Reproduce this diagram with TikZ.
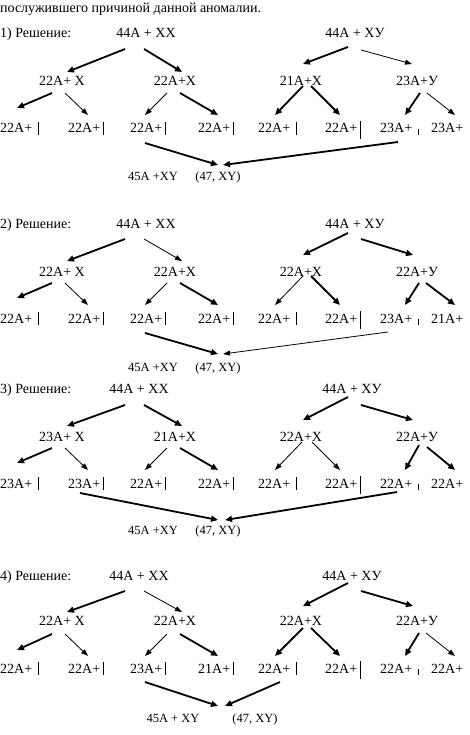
\documentclass[tikz,border=0pt]{standalone}
\usepackage{fontspec}
\setmainfont{Liberation Serif}
\usetikzlibrary{arrows.meta,calc}

% short strokes after the gametes
\newcommand{\gbar}{\rule[-2pt]{0.8pt}{13pt}}
\newcommand{\gbarl}{\rule[-6pt]{0.8pt}{18pt}}
\newcommand{\gtick}{\rule[-2pt]{0.8pt}{6pt}}

\tikzset{
  lbl/.style={font=\fontsize{14}{16}\selectfont, inner sep=0pt},
  sml/.style={font=\fontsize{12.5}{15}\selectfont, inner sep=0pt},
  thk/.style={line width=1.8pt, -{Triangle[length=7pt,width=6pt]}},
  thn/.style={line width=0.8pt, -{Triangle[length=7pt,width=5pt]}}
}

\begin{document}
\begin{tikzpicture}[x=1pt, y=-1pt]
    \useasboundingbox (0,0) rectangle (469,735);
    \node[lbl, anchor=base west] (head) at (0,13) {послужившего причиной данной аномалии.};

    % 1) Solution
    \begin{scope}[shift={(0,33)}]
    \node[lbl, anchor=base west] (b1h) at (0,5) {1) Решение:};
    \node[lbl, anchor=base] (b1xx) at (146,5) {44A + XX};
    \node[lbl, anchor=base] (b1xy) at (355,5) {44A + XУ};
    \node[lbl, anchor=base] (b1m1) at (62,53) {22A+ X};
    \node[lbl, anchor=base] (b1m2) at (175,53) {22A+X};
    \node[lbl, anchor=base] (b1m3) at (301,53) {21A+X};
    \node[lbl, anchor=base] (b1m4) at (417,53) {23A+У};
    \foreach \i/\x/\t in {1/0/{22A+\hspace{6pt}\gbar}, 2/68/{22A+\hspace{3pt}\gbar},
        3/130/{22A+\hspace{3pt}\gbar}, 4/198/{22A+\hspace{3pt}\gbar}, 5/258/{22A+\hspace{6pt}\gbar},
        6/325/{22A+\hspace{3pt}\gbarl}, 7/380/{23A+\hspace{6pt}\gtick}, 8/431/{23A+}}
      \node[lbl, anchor=base west] (b1g\i) at (\x,100) {\t};
    \node[sml, anchor=base] (b1res) at (153,148) {45A +XY};
    \node[sml, anchor=base] (b1kar) at (218,148) {(47, XY)};
    \draw[thk] ($(b1xx.base)+(-21,11)$) -- ($(b1m1.base)+(5,-14)$);
    \draw[thk] ($(b1xx.base)+(-2,11)$) -- ($(b1m2.base)+(7,-14)$);
    \draw[thk] ($(b1xy.base)+(-7,9)$) -- ($(b1m3.base)+(2,-22)$);
    \draw[thn] ($(b1xy.base)+(6,12)$) -- ($(b1m4.base)+(-5,-22)$);
    \draw[thk] ($(b1m1.base)+(-10,7)$) -- ($(b1g1.base west)+(17,-25)$);
    \draw[thn] ($(b1m1.base)+(3,7)$) -- ($(b1g2.base west)+(20,-18)$);
    \draw[thn] ($(b1m2.base)+(-8,7)$) -- ($(b1g3.base west)+(15,-18)$);
    \draw[thk] ($(b1m2.base)+(5,7)$) -- ($(b1g4.base west)+(20,-18)$);
    \draw[thk] ($(b1m3.base)+(2,0)$) -- ($(b1g5.base west)+(17,-18)$);
    \draw[thk] ($(b1m3.base)+(10,0)$) -- ($(b1g6.base west)+(15,-18)$);
    \draw[thk] ($(b1m4.base)+(3,7)$) -- ($(b1g7.base west)+(25,-18)$);
    \draw[thn] ($(b1m4.base)+(10,7)$) -- ($(b1g8.base west)+(24,-18)$);
    \draw[thk] ($(b1g3.base west)+(15,10)$) -- ($(b1kar.base)+(0,-16)$);
    \draw[thk] ($(b1g7.base west)+(18,9)$) -- ($(b1kar.base)+(5,-16)$);
    \end{scope}

    % 2) Solution
    \begin{scope}[shift={(0,223)}]
    \node[lbl, anchor=base west] (b2h) at (0,5) {2) Решение:};
    \node[lbl, anchor=base] (b2xx) at (146,5) {44A + XX};
    \node[lbl, anchor=base] (b2xy) at (355,5) {44A + XУ};
    \node[lbl, anchor=base] (b2m1) at (62,53) {22A+ X};
    \node[lbl, anchor=base] (b2m2) at (175,53) {22A+X};
    \node[lbl, anchor=base] (b2m3) at (301,53) {22A+X};
    \node[lbl, anchor=base] (b2m4) at (417,53) {22A+У};
    \foreach \i/\x/\t in {1/0/{22A+\hspace{6pt}\gbar}, 2/68/{22A+\hspace{3pt}\gbar},
        3/130/{22A+\hspace{3pt}\gbar}, 4/198/{22A+\hspace{3pt}\gbar}, 5/258/{22A+\hspace{6pt}\gbar},
        6/325/{22A+\hspace{3pt}\gbarl}, 7/380/{23A+\hspace{6pt}\gtick}, 8/431/{21A+}}
      \node[lbl, anchor=base west] (b2g\i) at (\x,100) {\t};
    \node[sml, anchor=base] (b2res) at (153,148) {45A +XY};
    \node[sml, anchor=base] (b2kar) at (218,148) {(47, XY)};
    \draw[thk] ($(b2xx.base)+(-21,11)$) -- ($(b2m1.base)+(5,-15)$);
    \draw[thn] ($(b2xx.base)+(-2,11)$) -- ($(b2m2.base)+(7,-15)$);
    \draw[thk] ($(b2xy.base)+(-7,5)$) -- ($(b2m3.base)+(2,-21)$);
    \draw[thk] ($(b2xy.base)+(6,11)$) -- ($(b2m4.base)+(-4,-21)$);
    \draw[thk] ($(b2m1.base)+(-10,7)$) -- ($(b2g1.base west)+(17,-25)$);
    \draw[thn] ($(b2m1.base)+(3,7)$) -- ($(b2g2.base west)+(20,-18)$);
    \draw[thn] ($(b2m2.base)+(-8,7)$) -- ($(b2g3.base west)+(15,-18)$);
    \draw[thk] ($(b2m2.base)+(5,7)$) -- ($(b2g4.base west)+(20,-18)$);
    \draw[thn] ($(b2m3.base)+(2,0)$) -- ($(b2g5.base west)+(17,-18)$);
    \draw[thk] ($(b2m3.base)+(10,0)$) -- ($(b2g6.base west)+(15,-18)$);
    \draw[thk] ($(b2m4.base)+(2,7)$) -- ($(b2g7.base west)+(25,-18)$);
    \draw[thk] ($(b2m4.base)+(9,7)$) -- ($(b2g8.base west)+(24,-18)$);
    \draw[thk] ($(b2g3.base west)+(15,10)$) -- ($(b2kar.base)+(0,-17)$);
    \draw[thn] ($(b2g7.base west)+(8,9)$) -- ($(b2kar.base)+(5,-17)$);
    \end{scope}

    % 3) Solution
    \begin{scope}[shift={(0,388)}]
    \node[lbl, anchor=base west] (b3h) at (0,5) {3) Решение:};
    \node[lbl, anchor=base] (b3xx) at (139,5) {44A + XX};
    \node[lbl, anchor=base] (b3xy) at (352,5) {44A + XУ};
    \node[lbl, anchor=base] (b3m1) at (62,53) {23A+ X};
    \node[lbl, anchor=base] (b3m2) at (175,53) {21A+X};
    \node[lbl, anchor=base] (b3m3) at (301,53) {22A+X};
    \node[lbl, anchor=base] (b3m4) at (417,53) {22A+У};
    \foreach \i/\x/\t in {1/0/{23A+\hspace{6pt}\gbar}, 2/68/{23A+\hspace{3pt}\gbar},
        3/130/{22A+\hspace{3pt}\gbar}, 4/198/{22A+\hspace{3pt}\gbar}, 5/258/{22A+\hspace{6pt}\gbar},
        6/325/{22A+\hspace{3pt}\gbarl}, 7/380/{22A+\hspace{6pt}\gtick}, 8/431/{22A+}}
      \node[lbl, anchor=base west] (b3g\i) at (\x,100) {\t};
    \node[sml, anchor=base] (b3res) at (153,146) {45A +XY};
    \node[sml, anchor=base] (b3kar) at (218,146) {(47, XY)};
    \draw[thk] ($(b3xx.base)+(-14,12)$) -- ($(b3m1.base)+(5,-15)$);
    \draw[thk] ($(b3xx.base)+(5,12)$) -- ($(b3m2.base)+(7,-15)$);
    \draw[thk] ($(b3xy.base)+(-4,4)$) -- ($(b3m3.base)+(2,-21)$);
    \draw[thk] ($(b3xy.base)+(9,12)$) -- ($(b3m4.base)+(-4,-21)$);
    \draw[thk] ($(b3m1.base)+(-10,7)$) -- ($(b3g1.base west)+(17,-25)$);
    \draw[thn] ($(b3m1.base)+(3,7)$) -- ($(b3g2.base west)+(20,-18)$);
    \draw[thn] ($(b3m2.base)+(-8,7)$) -- ($(b3g3.base west)+(15,-18)$);
    \draw[thk] ($(b3m2.base)+(5,7)$) -- ($(b3g4.base west)+(20,-18)$);
    \draw[thn] ($(b3m3.base)+(1,1)$) -- ($(b3g5.base west)+(17,-18)$);
    \draw[thn] ($(b3m3.base)+(11,1)$) -- ($(b3g6.base west)+(15,-18)$);
    \draw[thk] ($(b3m4.base)+(2,4)$) -- ($(b3g7.base west)+(25,-18)$);
    \draw[thk] ($(b3m4.base)+(10,6)$) -- ($(b3g8.base west)+(24,-18)$);
    \draw[thk] ($(b3g2.base west)+(12,5)$) -- ($(b3kar.base)+(0,-14)$);
    \draw[thk] ($(b3g7.base west)+(17,4)$) -- ($(b3kar.base)+(7,-14)$);
    \end{scope}

    % 4) Solution
    \begin{scope}[shift={(0,575)}]
    \node[lbl, anchor=base west] (b4h) at (0,5) {4) Решение:};
    \node[lbl, anchor=base] (b4xx) at (139,5) {44A + XX};
    \node[lbl, anchor=base] (b4xy) at (352,5) {44A + XУ};
    \node[lbl, anchor=base] (b4m1) at (62,50) {22A+ X};
    \node[lbl, anchor=base] (b4m2) at (175,50) {22A+X};
    \node[lbl, anchor=base] (b4m3) at (301,50) {22A+X};
    \node[lbl, anchor=base] (b4m4) at (417,50) {22A+У};
    \foreach \i/\x/\t in {1/0/{22A+\hspace{6pt}\gbar}, 2/68/{22A+\hspace{3pt}\gbar},
        3/130/{23A+\hspace{3pt}\gbar}, 4/198/{21A+\hspace{3pt}\gbar}, 5/258/{22A+\hspace{6pt}\gbar},
        6/325/{22A+\hspace{3pt}\gbarl}, 7/380/{22A+\hspace{6pt}\gtick}, 8/431/{22A+}}
      \node[lbl, anchor=base west] (b4g\i) at (\x,98) {\t};
    \node[sml, anchor=base] (b4res) at (173,147) {45A + XY};
    \node[sml, anchor=base] (b4kar) at (255,147) {(47, XY)};
    \draw[thk] ($(b4xx.base)+(-14,11)$) -- ($(b4m1.base)+(5,-13)$);
    \draw[thn] ($(b4xx.base)+(5,11)$) -- ($(b4m2.base)+(7,-13)$);
    \draw[thk] ($(b4xy.base)+(-4,3)$) -- ($(b4m3.base)+(2,-19)$);
    \draw[thk] ($(b4xy.base)+(9,11)$) -- ($(b4m4.base)+(-4,-19)$);
    \draw[thk] ($(b4m1.base)+(-10,9)$) -- ($(b4g1.base west)+(17,-23)$);
    \draw[thn] ($(b4m1.base)+(3,9)$) -- ($(b4g2.base west)+(20,-17)$);
    \draw[thn] ($(b4m2.base)+(-8,9)$) -- ($(b4g3.base west)+(15,-17)$);
    \draw[thk] ($(b4m2.base)+(5,9)$) -- ($(b4g4.base west)+(20,-17)$);
    \draw[thk] ($(b4m3.base)+(2,3)$) -- ($(b4g5.base west)+(17,-17)$);
    \draw[thk] ($(b4m3.base)+(10,3)$) -- ($(b4g6.base west)+(15,-17)$);
    \draw[thk] ($(b4m4.base)+(2,8)$) -- ($(b4g7.base west)+(25,-17)$);
    \draw[thn] ($(b4m4.base)+(9,8)$) -- ($(b4g8.base west)+(24,-17)$);
    \draw[thk] ($(b4g3.base west)+(15,9)$) -- ($(b4kar.base)+(-37,-16)$);
    \draw[thk] ($(b4g5.base west)+(22,9)$) -- ($(b4kar.base)+(-30,-16)$);
    \end{scope}
\end{tikzpicture}
\end{document}
